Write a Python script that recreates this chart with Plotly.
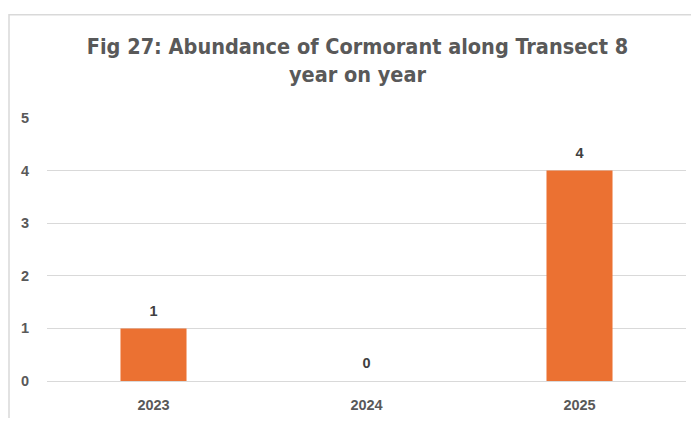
import plotly.graph_objects as go

years = ["2023", "2024", "2025"]
counts = [1, 0, 4]
y_ticks = [0, 1, 2, 3, 4, 5]

title_text = "Fig 27: Abundance of Cormorant along Transect 8<br>year on year"

# the page body keeps its 8px margin, so the figure is sized to fit inside it
W, H = 683, 410
L, R, T, B = 39, 5, 110, 30
pw, ph = W - L - R, H - T - B

label_font = dict(family="Liberation Sans", size=14.5, color="#595959", weight="bold")

fig = go.Figure()

fig.add_trace(
    go.Bar(
        x=years,
        y=counts,
        marker=dict(color="#EB7132", line=dict(width=0)),
        hoverinfo="x+y",
    )
)

# data labels above each bar
fig.add_trace(
    go.Scatter(
        x=years,
        y=counts,
        mode="markers+text",
        text=[str(c) for c in counts],
        textposition="top center",
        marker=dict(size=13, color="rgba(0,0,0,0)"),
        textfont=dict(family="Liberation Sans", size=14.5, color="#404040", weight="bold"),
        cliponaxis=False,
        hoverinfo="skip",
    )
)

fig.update_layout(
    width=W,
    height=H,
    margin=dict(l=L, r=R, t=T, b=B),
    paper_bgcolor="white",
    plot_bgcolor="white",
    showlegend=False,
    bargap=0.69,
    title=dict(
        text=title_text,
        x=(W / 2 + 8) / W,
        xanchor="center",
        y=1 - 46 / H,
        yanchor="top",
        font=dict(family="DejaVu Sans Condensed", size=21.5, color="#595959", weight="bold"),
    ),
    xaxis=dict(
        showgrid=False,
        showline=False,
        zeroline=False,
        ticks="",
        ticklabelstandoff=13,
        tickfont=label_font,
    ),
    yaxis=dict(
        range=[0, 5],
        tickvals=y_ticks,
        showgrid=True,
        gridcolor="#D9D9D9",
        gridwidth=1,
        zeroline=True,
        zerolinecolor="#D9D9D9",
        zerolinewidth=1,
        showline=False,
        ticks="",
        ticklabelstandoff=17,
        tickfont=label_font,
    ),
    shapes=[
        dict(
            type="rect",
            xref="paper",
            yref="paper",
            x0=(1 - L) / pw,
            x1=(W + 40 - L) / pw,
            y0=-(B + 40) / ph,
            y1=(ph + T - 4) / ph,
            line=dict(color="#D9D9D9", width=1.5),
            fillcolor="rgba(0,0,0,0)",
            layer="below",
        )
    ],
)

fig.write_html("out.html")
